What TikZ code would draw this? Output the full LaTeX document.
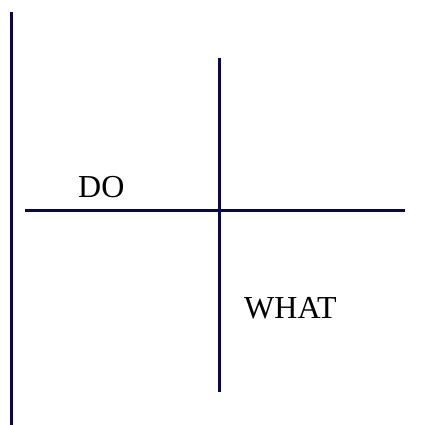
\documentclass[tikz,border=0pt]{standalone}
\usepackage{fontspec}
\setmainfont{Liberation Serif}
\usetikzlibrary{positioning}
\definecolor{navy}{RGB}{8,8,80}

\begin{document}
\begin{tikzpicture}[x=1pt, y=-1pt,
  bar/.style={draw=navy, line width=3pt},
  word/.style={anchor=base west, inner sep=0pt,
    font=\fontsize{32}{37}\selectfont}]
\useasboundingbox (0,0) rectangle (439,425);
% the long left rule
\coordinate (lefttop) at (11,12);
\coordinate (leftbot) at (11,425);
\draw[bar] (lefttop) -- (leftbot);
% the cross
\coordinate (west) at (25,210);
\coordinate (east) at (405,210);
\coordinate (north) at (219,58);
\coordinate (south) at (219,392);
\draw[bar] (west) -- (east);
\draw[bar] (north) -- (south);
\node[word] (do) at (78,197) {DO};
\node[word] (what) at (244,318) {WHAT};
\end{tikzpicture}
\end{document}
